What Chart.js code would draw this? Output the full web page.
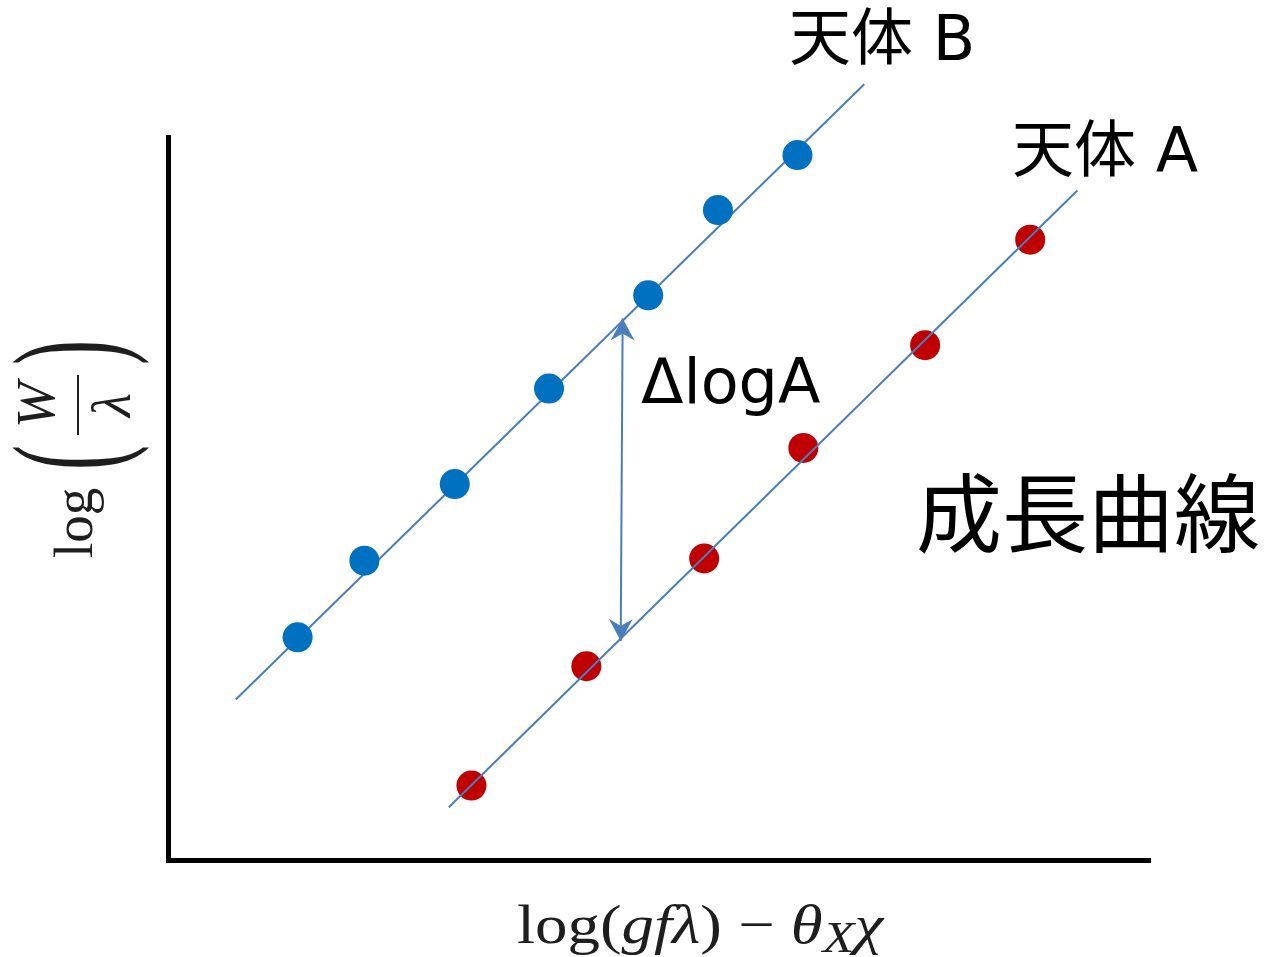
<!DOCTYPE html>
<html>
<head>
<meta charset="utf-8">
<script src="https://cdn.jsdelivr.net/npm/chart.js@4.4.1/dist/chart.umd.min.js"></script>
<style>
  html, body { margin: 0; padding: 0; background: #fff; }
  #wrap { width: 1264px; height: 957px; position: relative; }
</style>
</head>
<body>
<div id="wrap"><canvas id="grafica"></canvas></div>
<script>
// 天体 B (blue dots)
const bodyBX = [13.2, 20.0, 29.2, 38.8, 48.9, 56.0, 64.1];
const bodyBY = [30.8, 41.4, 52.0, 65.2, 78.1, 89.9, 97.5];
// 天体 A (red dots)
const bodyAX = [30.9, 42.6, 54.6, 64.7, 77.1, 87.8];
const bodyAY = [10.3, 26.8, 41.7, 57.0, 71.2, 85.8];
// straight growth-curve lines, two ends each
const lineBX = [6.9, 70.9];
const lineBY = [22.2, 107.3];
const lineAX = [28.6, 92.6];
const lineAY = [7.3, 92.6];
// ΔlogA arrow, from line A up to line B
const arrowX = [46.1, 46.3];
const arrowY = [30.3, 74.9];

const labelB = "天体 B";
const labelA = "天体 A";
const labelDelta = "ΔlogA";
const labelCurve = "成長曲線";

const pts = (xs, ys) => xs.map((x, i) => ({ x: x, y: ys[i] }));

const lineColor = "#4a7ebb";
const ink = "#1e1e1e";
const jpFont = "'DejaVu Sans', 'Noto Sans CJK JP', sans-serif";
const mathFont = "'Liberation Serif', 'DejaVu Serif', serif";

function arrowHead(ctx, tx, ty, fx, fy) {
  // stealth style head, tip at (tx,ty), pointing away from (fx,fy)
  const len = Math.hypot(tx - fx, ty - fy);
  const ux = (tx - fx) / len, uy = (ty - fy) / len;
  const px = -uy, py = ux;
  const L = 22, W = 12, N = 15;
  ctx.beginPath();
  ctx.moveTo(tx, ty);
  ctx.lineTo(tx - ux * L + px * W, ty - uy * L + py * W);
  ctx.lineTo(tx - ux * N, ty - uy * N);
  ctx.lineTo(tx - ux * L - px * W, ty - uy * L - py * W);
  ctx.closePath();
  ctx.fill();
}

function drawRuns(ctx, runs, cx, baseY, size, width) {
  // lay out a math label from runs of roman / italic / subscript text
  let total = 0;
  runs.forEach(r => {
    const s = r.sub ? size * 0.8 : size;
    ctx.font = (r.it ? "italic " : "") + s + "px " + mathFont;
    r.w = ctx.measureText(r.t).width;
    r.s = s;
    total += r.w;
  });
  const k = width / total;
  ctx.save();
  ctx.translate(cx - width / 2, baseY);
  ctx.scale(k, 1);
  let x = 0;
  runs.forEach(r => {
    ctx.font = (r.it ? "italic " : "") + r.s + "px " + mathFont;
    ctx.fillText(r.t, x, r.sub ? 9 : 0);
    x += r.w;
  });
  ctx.restore();
}

const annotations = {
  id: "annotations",
  afterDatasetsDraw(chart) {
    const ctx = chart.ctx;
    const sx = chart.scales.x, sy = chart.scales.y;

    // double-headed ΔlogA arrow
    const x0 = sx.getPixelForValue(arrowX[0]), y0 = sy.getPixelForValue(arrowY[0]);
    const x1 = sx.getPixelForValue(arrowX[1]), y1 = sy.getPixelForValue(arrowY[1]);
    ctx.save();
    ctx.strokeStyle = lineColor;
    ctx.fillStyle = lineColor;
    ctx.lineWidth = 2;
    ctx.beginPath();
    ctx.moveTo(x0, y0);
    ctx.lineTo(x1, y1);
    ctx.stroke();
    arrowHead(ctx, x1, y1, x0, y0);
    arrowHead(ctx, x0, y0, x1, y1);
    ctx.restore();
  },
  afterDraw(chart) {
    const ctx = chart.ctx;
    ctx.save();
    ctx.fillStyle = "#000";
    ctx.textBaseline = "alphabetic";
    ctx.textAlign = "left";
    ctx.font = "62px " + jpFont;
    ctx.fillText(labelB, 789, 60);
    ctx.fillText(labelA, 1012, 172);
    ctx.fillText(labelDelta, 641, 403);
    ctx.font = "86px " + jpFont;
    ctx.fillText(labelCurve, 916, 546);

    // x axis title: log(gfλ) − θXχ
    ctx.fillStyle = ink;
    drawRuns(ctx, [
      { t: "log(" }, { t: "gfλ", it: true }, { t: ")" }, { t: " − " },
      { t: "θ", it: true }, { t: "X", it: true, sub: true }, { t: "χ", it: true }
    ], 700, 943, 55, 366);

    // y axis title: log(W/λ), rotated
    ctx.translate(92, 558);
    ctx.rotate(-Math.PI / 2);
    ctx.font = "55px " + mathFont;
    ctx.fillText("log", 0, 0);
    ctx.font = "150px " + mathFont;
    ctx.save(); ctx.translate(88, 24.5); ctx.scale(0.5, 1); ctx.fillText("(", 0, 0); ctx.restore();
    ctx.save(); ctx.translate(193, 24.5); ctx.scale(0.5, 1); ctx.fillText(")", 0, 0); ctx.restore();
    ctx.fillRect(123, -15, 60, 2);
    ctx.font = "italic 55px " + mathFont;
    ctx.textAlign = "center";
    ctx.fillText("W", 153, -38);
    ctx.fillText("λ", 153, 38);
    ctx.restore();
  }
};

const graph = document.getElementById("grafica");
const grafico = new Chart(graph, {
  type: "scatter",
  data: {
    datasets: [
      { label: labelB, data: pts(bodyBX, bodyBY), backgroundColor: "#0070c0",
        pointRadius: 15, pointBorderWidth: 0, order: 1, clip: false },
      { data: pts(lineBX, lineBY), showLine: true, borderColor: lineColor, borderWidth: 2,
        pointRadius: 0, order: 2, clip: false },
      { data: pts(lineAX, lineAY), showLine: true, borderColor: lineColor, borderWidth: 2,
        pointRadius: 0, order: 3, clip: false },
      { label: labelA, data: pts(bodyAX, bodyAY), backgroundColor: "#c00000",
        pointRadius: 15, pointBorderWidth: 0, order: 4, clip: false }
    ]
  },
  options: {
    responsive: true,
    maintainAspectRatio: false,
    animation: false,
    // the scales keep 8px of their own beside the axes
    layout: { padding: { left: 160, right: 114, top: 137, bottom: 89 } },
    plugins: { legend: { display: false }, tooltip: { enabled: false } },
    scales: {
      x: {
        type: "linear", min: 0, max: 100,
        grid: { display: false }, ticks: { display: false },
        border: { display: true, color: "#000", width: 5 }
      },
      y: {
        type: "linear", min: 0, max: 100,
        grid: { display: false }, ticks: { display: false },
        border: { display: true, color: "#000", width: 5 }
      }
    }
  },
  plugins: [annotations]
});
</script>
</body>
</html>
